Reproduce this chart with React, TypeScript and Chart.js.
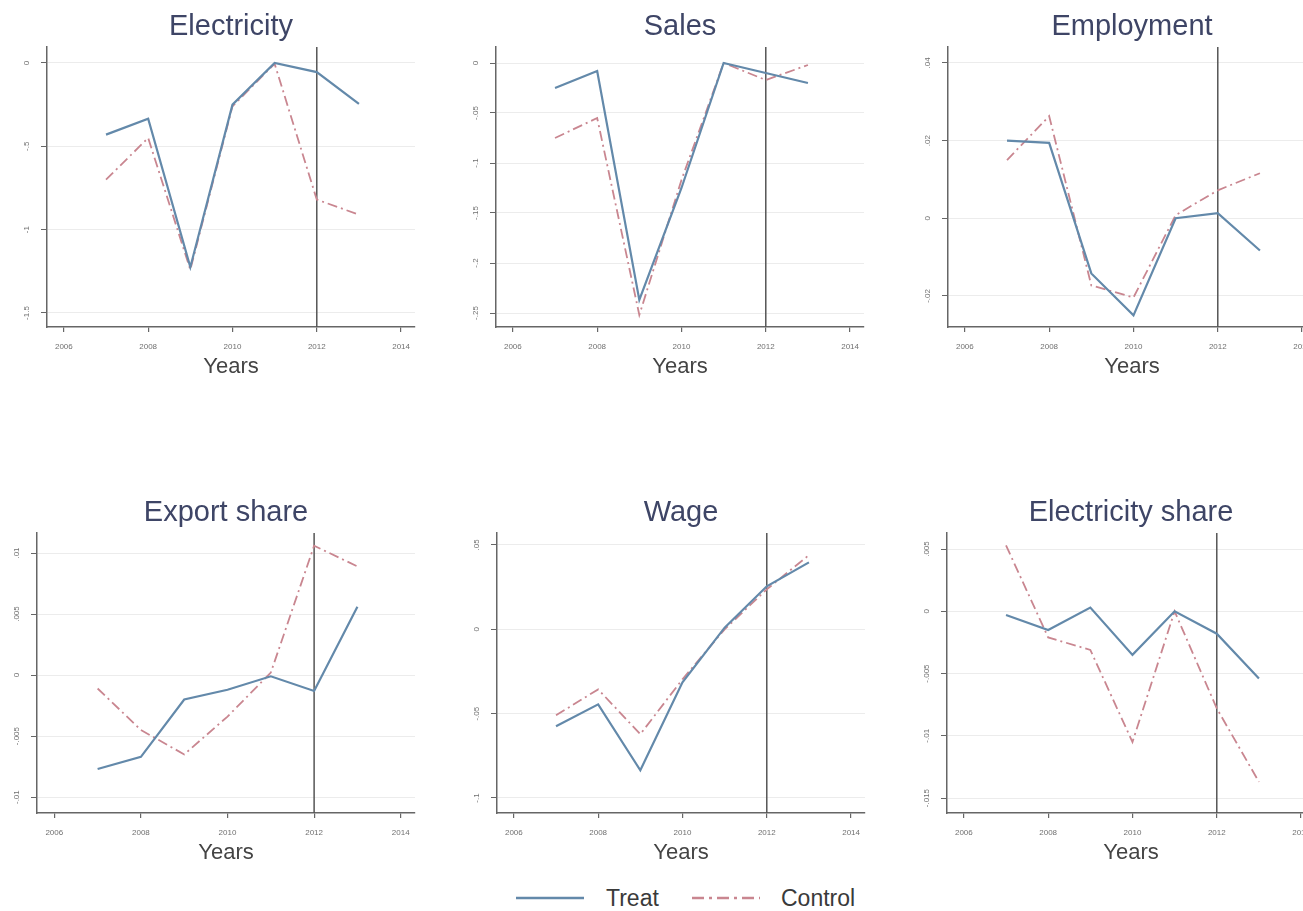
import React, { useEffect, useRef } from "react";
import { Chart, registerables } from "chart.js";
Chart.register(...registerables);

const years = [2007, 2008, 2009, 2010, 2011, 2012, 2013];
const xTicks = [2006, 2008, 2010, 2012, 2014];
const treatmentYear = 2012;

const electricityTreat = [-0.43, -0.335, -1.225, -0.25, 0.0, -0.055, -0.245];
const electricityControl = [-0.7, -0.45, -1.24, -0.26, -0.005, -0.82, -0.91];
const electricityTicks = [0, -0.5, -1, -1.5];
const electricityLabels = ["0", "-.5", "-1", "-1.5"];

const salesTreat = [-0.025, -0.008, -0.237, -0.125, 0.0, -0.01, -0.02];
const salesControl = [-0.075, -0.055, -0.252, -0.117, 0.0, -0.017, -0.002];
const salesTicks = [0, -0.05, -0.1, -0.15, -0.2, -0.25];
const salesLabels = ["0", "-.05", "-.1", "-.15", "-.2", "-.25"];

const employmentTreat = [0.02, 0.0194, -0.0142, -0.025, 0.0, 0.0013, -0.0083];
const employmentControl = [0.015, 0.0263, -0.0173, -0.0204, 0.0008, 0.0072, 0.0116];
const employmentTicks = [0.04, 0.02, 0, -0.02];
const employmentLabels = [".04", ".02", "0", "-.02"];

const exportTreat = [-0.0077, -0.0067, -0.002, -0.0012, -0.0001, -0.0013, 0.0056];
const exportControl = [-0.0011, -0.0045, -0.0065, -0.0034, 0.0002, 0.0106, 0.0089];
const exportTicks = [0.01, 0.005, 0, -0.005, -0.01];
const exportLabels = [".01", ".005", "0", "-.005", "-.01"];

const wageTreat = [-0.0575, -0.0445, -0.0836, -0.0314, 0.001, 0.0255, 0.0397];
const wageControl = [-0.051, -0.0356, -0.0622, -0.0296, 0.0, 0.0237, 0.044];
const wageTicks = [0.05, 0, -0.05, -0.1];
const wageLabels = [".05", "0", "-.05", "-.1"];

const elecShareTreat = [-0.0003, -0.0015, 0.0003, -0.0035, 0.0, -0.0018, -0.0054];
const elecShareControl = [0.0053, -0.0021, -0.0031, -0.0105, 0.0, -0.0078, -0.0137];
const elecShareTicks = [0.005, 0, -0.005, -0.01, -0.015];
const elecShareLabels = [".005", "0", "-.005", "-.01", "-.015"];

const FONT = "'Liberation Sans', Arial, Helvetica, sans-serif";
const TREAT_COLOR = "#6389aa";
const CONTROL_COLOR = "#c98690";
const CONTROL_DASH = [10, 4, 2, 4];
const TITLE_COLOR = "#3e4566";
const AXIS_COLOR = "#666666";

const X_MIN = 2005.6;
const X_MAX = 2014.33;
const Y_W = 47;
const TITLE_H = 47;
const X_H = 60;
const RIGHT_PAD = 30;

type Panel = {
  title: string;
  treat: number[];
  control: number[];
  yTicks: number[];
  yLabels: string[];
  yMin: number;
  yMax: number;
  area: [number, number, number, number];
};

const panels: Panel[] = [
  { title: "Electricity", treat: electricityTreat, control: electricityControl, yTicks: electricityTicks, yLabels: electricityLabels, yMin: -1.584, yMax: 0.0956, area: [47, 47, 415, 327] },
  { title: "Sales", treat: salesTreat, control: salesControl, yTicks: salesTicks, yLabels: salesLabels, yMin: -0.264, yMax: 0.016, area: [496, 47, 864, 327] },
  { title: "Employment", treat: employmentTreat, control: employmentControl, yTicks: employmentTicks, yLabels: employmentLabels, yMin: -0.028, yMax: 0.0441, area: [948, 47, 1316, 327] },
  { title: "Export share", treat: exportTreat, control: exportControl, yTicks: exportTicks, yLabels: exportLabels, yMin: -0.0113, yMax: 0.01164, area: [37, 533, 415, 813] },
  { title: "Wage", treat: wageTreat, control: wageControl, yTicks: wageTicks, yLabels: wageLabels, yMin: -0.1089, yMax: 0.0571, area: [497, 533, 865, 813] },
  { title: "Electricity share", treat: elecShareTreat, control: elecShareControl, yTicks: elecShareTicks, yLabels: elecShareLabels, yMin: -0.0162, yMax: 0.00629, area: [947, 533, 1315, 813] },
];

function PanelChart({ p }: { p: Panel }) {
  const ref = useRef<HTMLCanvasElement>(null);
  useEffect(() => {
    if (!ref.current) return;
    const refLine = {
      id: "refLine",
      beforeDatasetsDraw(chart: any) {
        const { ctx, chartArea } = chart;
        const x = chart.scales.x.getPixelForValue(treatmentYear);
        ctx.save();
        ctx.strokeStyle = "#555555";
        ctx.lineWidth = 1.5;
        ctx.beginPath();
        ctx.moveTo(x, chartArea.top);
        ctx.lineTo(x, chartArea.bottom);
        ctx.stroke();
        ctx.restore();
      },
    };
    const yLabelsPlugin = {
      id: "yLabelsRot",
      afterDraw(chart: any) {
        const { ctx, chartArea } = chart;
        const s = chart.scales.y;
        ctx.save();
        ctx.fillStyle = "#707070";
        ctx.font = `8px ${FONT}`;
        ctx.textAlign = "center";
        ctx.textBaseline = "middle";
        p.yTicks.forEach((v, i) => {
          const y = s.getPixelForValue(v);
          ctx.save();
          ctx.translate(chartArea.left - 20, y);
          ctx.rotate(-Math.PI / 2);
          ctx.fillText(p.yLabels[i], 0, 0);
          ctx.restore();
        });
        ctx.restore();
      },
    };
    const chart = new Chart(ref.current, {
      type: "line",
      data: {
        datasets: [
          {
            label: "Treat",
            data: years.map((x, i) => ({ x, y: p.treat[i] })),
            borderColor: TREAT_COLOR,
            borderWidth: 2.2,
            pointRadius: 0,
            tension: 0,
            fill: false,
          },
          {
            label: "Control",
            data: years.map((x, i) => ({ x, y: p.control[i] })),
            borderColor: CONTROL_COLOR,
            borderWidth: 1.8,
            borderDash: CONTROL_DASH,
            pointRadius: 0,
            tension: 0,
            fill: false,
          },
        ],
      },
      options: {
        animation: false,
        responsive: false,
        maintainAspectRatio: false,
        layout: { padding: { left: 0, right: RIGHT_PAD, top: 0, bottom: 0 } },
        plugins: {
          legend: { display: false },
          tooltip: { enabled: false },
          title: {
            display: true,
            text: p.title,
            fullSize: false,
            color: TITLE_COLOR,
            font: { family: FONT, size: 29, weight: "normal", lineHeight: "32px" },
            padding: { top: 11, bottom: 4 },
          },
        },
        scales: {
          x: {
            type: "linear",
            min: X_MIN,
            max: X_MAX,
            afterBuildTicks: (s: any) => {
              s.ticks = xTicks.map((v) => ({ value: v }));
            },
            afterFit: (s: any) => {
              s.height = X_H;
            },
            grid: { drawOnChartArea: false, drawTicks: true, tickLength: 5, tickColor: AXIS_COLOR, lineWidth: 1.2 },
            border: { color: AXIS_COLOR, width: 1.5 },
            ticks: {
              font: { family: FONT, size: 8 },
              color: "#707070",
              padding: 10,
              maxRotation: 0,
              minRotation: 0,
              autoSkip: false,
              callback: (v: any) => String(v),
            },
            title: {
              display: true,
              text: "Years",
              color: "#444444",
              font: { family: FONT, size: 22, lineHeight: "24px" },
              padding: { top: 0, bottom: 8 },
            },
          },
          y: {
            type: "linear",
            min: p.yMin,
            max: p.yMax,
            afterBuildTicks: (s: any) => {
              s.ticks = p.yTicks.map((v) => ({ value: v }));
            },
            afterFit: (s: any) => {
              s.width = Y_W;
            },
            grid: { color: "#ececec", lineWidth: 1, drawTicks: true, tickLength: 6, tickColor: AXIS_COLOR },
            border: { color: AXIS_COLOR, width: 1.5 },
            ticks: { display: false },
          },
        },
      },
      plugins: [refLine, yLabelsPlugin],
    } as any);
    return () => chart.destroy();
  }, []);
  const [l, t, r, b] = p.area;
  const width = r - l + Y_W + RIGHT_PAD;
  const height = b - t + TITLE_H + X_H;
  return (
    <canvas
      ref={ref}
      width={width}
      height={height}
      style={{ position: "absolute", left: l - Y_W, top: t - TITLE_H, width, height, display: "block" }}
    />
  );
}

export default function App() {
  return (
    <div
      style={{
        position: "fixed",
        left: 0,
        top: 0,
        width: 1303,
        height: 911,
        overflow: "hidden",
        background: "#ffffff",
        fontFamily: FONT,
      }}
    >
      {panels.map((p) => (
        <PanelChart key={p.title} p={p} />
      ))}
      <svg style={{ position: "absolute", left: 512, top: 888, width: 76, height: 20 }} width={76} height={20}>
        <line x1={4} y1={10} x2={72} y2={10} stroke={TREAT_COLOR} strokeWidth={2.5} />
      </svg>
      <span style={{ position: "absolute", left: 606, top: 885, fontSize: 23, lineHeight: "26px", color: "#3a3a3a" }}>Treat</span>
      <svg style={{ position: "absolute", left: 688, top: 888, width: 76, height: 20 }} width={76} height={20}>
        <line x1={4} y1={10} x2={72} y2={10} stroke={CONTROL_COLOR} strokeWidth={2.5} strokeDasharray="12 5 3 5" />
      </svg>
      <span style={{ position: "absolute", left: 781, top: 885, fontSize: 23, lineHeight: "26px", color: "#3a3a3a" }}>Control</span>
    </div>
  );
}
